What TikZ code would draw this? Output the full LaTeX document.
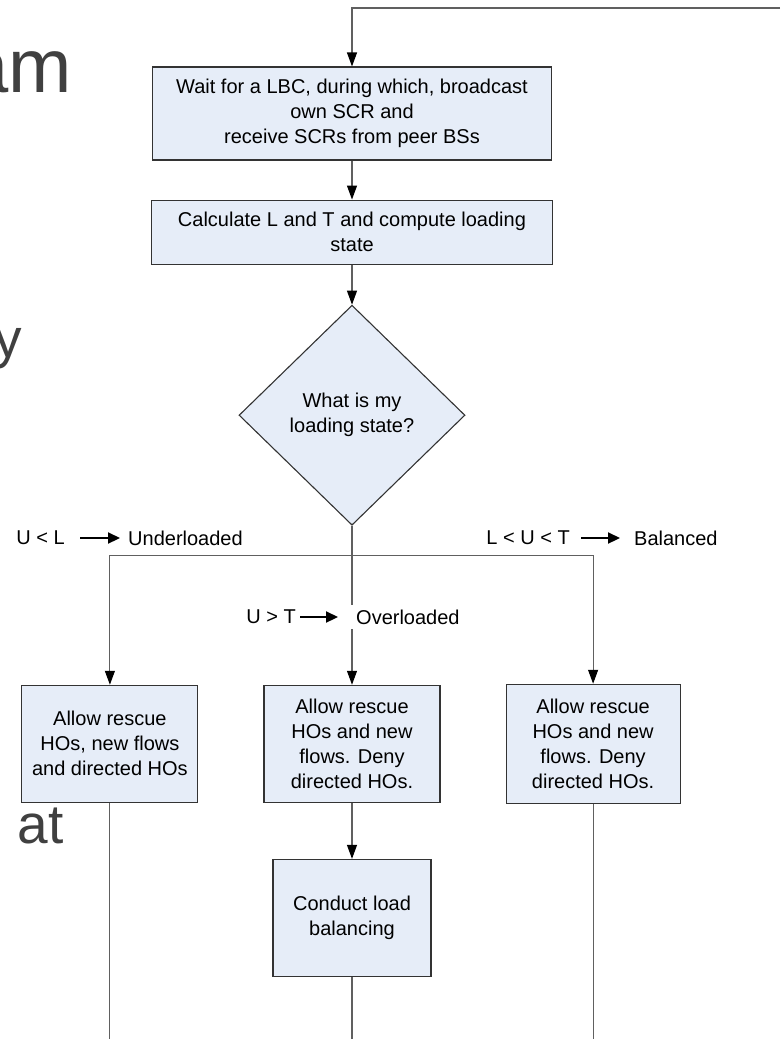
\documentclass[tikz,border=0pt]{standalone}
\usepackage{fontspec}
\setmainfont{Liberation Sans}
\usetikzlibrary{positioning,shapes.geometric,arrows.meta,calc}

\definecolor{boxfill}{RGB}{230,237,248}
\definecolor{linegray}{RGB}{96,96,96}
\definecolor{slidegray}{RGB}{64,64,64}

\begin{document}
\begin{tikzpicture}[x=1pt, y=-1pt,
    proc/.style={rectangle, draw=black!80, fill=boxfill, line width=1.1pt, align=center, inner sep=0pt, font=\fontsize{20}{25}\selectfont},
    decide/.style={diamond, draw=black!80, fill=boxfill, line width=1.1pt, align=center, inner sep=0pt, aspect=1.03, font=\fontsize{20}{25}\selectfont},
    lbl/.style={inner sep=0pt, font=\fontsize{20}{24}\selectfont},
    frag/.style={inner sep=0pt, text=slidegray},
    conn/.style={draw=linegray, line width=1.1pt},
    flow/.style={conn, -{Triangle[length=14pt, width=10pt, color=black]}},
    lblarrow/.style={line width=2.2pt, -{Triangle[length=12pt, width=11pt]}}]
    \useasboundingbox (0,0) rectangle (780,1039);

    % cut-off slide text on the left
    \node (fragam) [frag, font=\fontsize{76}{76}\selectfont, anchor=base east] at (72,92) {am};
    \node (fragy) [frag, font=\fontsize{55}{55}\selectfont, anchor=base east] at (22,357) {y};
    \node (fragat) [frag, font=\fontsize{55}{55}\selectfont, anchor=base east] at (64,843) {at};

    % main column
    \node (wait) [proc, minimum width=399pt, minimum height=93pt] at (352,113.5)
        {Wait for a LBC, during which, broadcast\\own SCR and\\receive SCRs from peer BSs};
    \node (calc) [proc, below=39pt of wait, minimum width=401pt, minimum height=64pt]
        {Calculate L and T and compute loading\\state};
    \node (state) [decide, below=40pt of calc, minimum width=226pt, minimum height=220pt]
        {What is my\\loading state?};

    % the three branches
    \node (ovbox) [proc, below=159pt of state, minimum width=176pt, minimum height=117pt]
        {Allow rescue\\HOs and new\\flows. Deny\\directed HOs.};
    \node (unbox) [proc, left=65pt of ovbox, minimum width=176pt, minimum height=117pt]
        {Allow rescue\\HOs, new flows\\and directed HOs};
    \node (babox) [proc, right=65pt of ovbox, minimum width=174pt, minimum height=119pt]
        {Allow rescue\\HOs and new\\flows. Deny\\directed HOs.};
    \node (lbbox) [proc, below=56pt of ovbox, minimum width=158pt, minimum height=117pt]
        {Conduct load\\balancing};

    \coordinate (loopr) at (780,8);
    \coordinate (loopl) at (wait.north |- loopr);
    \coordinate (split) at ($(state.south)+(0,30)$);
    \coordinate (bottom) at (0,1039);
    \coordinate (unend) at (unbox.south |- bottom);
    \coordinate (lbend) at (lbbox.south |- bottom);
    \coordinate (baend) at (babox.south |- bottom);

    \draw [flow] (loopr) -- (loopl) -- (wait);
    \draw [flow] (wait) -- (calc);
    \draw [flow] (calc) -- (state);
    \draw [conn] (state) -- (split);
    \draw [flow] (split) -- (ovbox);
    \draw [flow] (split) -| (unbox);
    \draw [flow] (split) -| (babox);
    \draw [flow] (ovbox) -- (lbbox);
    \draw [conn] (unbox) -- (unend);
    \draw [conn] (lbbox) -- (lbend);
    \draw [conn] (babox) -- (baend);

    % branch labels
    \node (uncond) [lbl, anchor=east] at (65,538) {U < L};
    \node (unname) [lbl, right=63pt of uncond] {Underloaded};
    \node (bacond) [lbl, anchor=east] at (570,538) {L < U < T};
    \node (baname) [lbl, right=64pt of bacond] {Balanced};
    \node (ovcond) [lbl, anchor=east] at (296,617) {U > T};
    \node (ovname) [lbl, fill=white, inner xsep=6pt, inner ysep=5pt, right=54pt of ovcond] {Overloaded};

    \draw [lblarrow, shorten <=15pt, shorten >=8pt] (uncond) -- (unname);
    \draw [lblarrow, shorten <=11pt, shorten >=14pt] (bacond) -- (baname);
    \draw [lblarrow, shorten <=4pt, shorten >=12pt] (ovcond) -- (ovname);
\end{tikzpicture}
\end{document}
